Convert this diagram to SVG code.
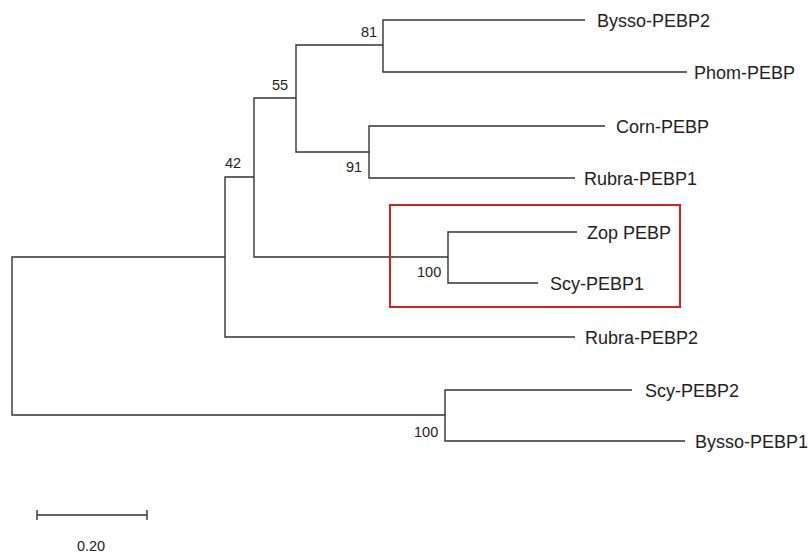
<svg xmlns="http://www.w3.org/2000/svg" width="808" height="553" viewBox="0 0 808 553">
  <style>
    .br { fill: none; stroke: #333; stroke-width: 1.4; }
    .leaf { font-family: "Liberation Sans", Arial, sans-serif; font-size: 18px; fill: #222; }
    .bs { font-family: "Liberation Sans", Arial, sans-serif; font-size: 14.5px; fill: #222; }
  </style>
  <rect width="808" height="553" fill="#fff"/>

  <!-- tree branches -->
  <g id="connectors">
    <!-- root -->
    <path class="br" d="M225,257 H12 V415 H445"/>
    <!-- ingroup node -->
    <path class="br" d="M254,177 H225 V337 H575"/>
    <!-- node 42 -->
    <path class="br" d="M296,98 H254 V257 H448"/>
    <!-- node 55 -->
    <path class="br" d="M383,45 H296 V152 H369"/>
    <!-- node 81 -->
    <path class="br" d="M585,20 H383 V72 H687"/>
    <!-- node 91 -->
    <path class="br" d="M605,126 H369 V178 H575"/>
    <!-- node 100 (Zop / Scy-PEBP1) -->
    <path class="br" d="M577,232 H448 V283 H538"/>
    <!-- node 100 (Scy-PEBP2 / Bysso-PEBP1) -->
    <path class="br" d="M632,390 H445 V441 H685"/>
  </g>

  <!-- bootstrap values -->
  <g id="bootstrap">
    <text class="bs" x="361" y="37">81</text>
    <text class="bs" x="272" y="90">55</text>
    <text class="bs" x="225" y="168">42</text>
    <text class="bs" x="346" y="172">91</text>
    <text class="bs" x="417" y="277">100</text>
    <text class="bs" x="414" y="437">100</text>
  </g>

  <!-- taxa -->
  <g id="leaf-bysso-pebp2"><text class="leaf" x="597" y="27">Bysso-PEBP2</text></g>
  <g id="leaf-phom-pebp"><text class="leaf" x="694" y="79">Phom-PEBP</text></g>
  <g id="leaf-corn-pebp"><text class="leaf" x="616" y="133">Corn-PEBP</text></g>
  <g id="leaf-rubra-pebp1"><text class="leaf" x="584" y="185">Rubra-PEBP1</text></g>
  <g id="leaf-zop-pebp"><text class="leaf" x="587" y="239">Zop PEBP</text></g>
  <g id="leaf-scy-pebp1"><text class="leaf" x="550" y="290">Scy-PEBP1</text></g>
  <g id="leaf-rubra-pebp2"><text class="leaf" x="585" y="344">Rubra-PEBP2</text></g>
  <g id="leaf-scy-pebp2"><text class="leaf" x="645" y="397">Scy-PEBP2</text></g>
  <g id="leaf-bysso-pebp1"><text class="leaf" x="695" y="448">Bysso-PEBP1</text></g>

  <!-- highlight box -->
  <g id="highlight">
    <rect x="390" y="205" width="290" height="102" fill="none" stroke="#d02020" stroke-width="2"/>
  </g>

  <!-- scale bar -->
  <g id="scale-bar">
    <path class="br" d="M37,515 H147 M37,510 V520 M147,510 V520"/>
    <text class="bs" x="91" y="551" text-anchor="middle" font-size="13.5">0.20</text>
  </g>
</svg>
